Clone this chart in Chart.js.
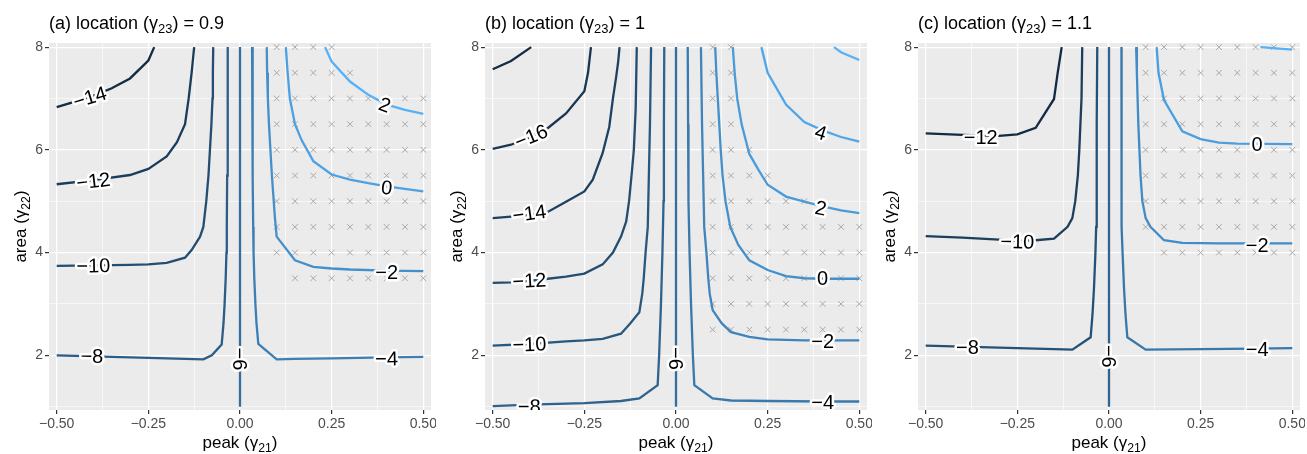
<!DOCTYPE html>
<html>
<head>
<meta charset="utf-8">
<script src="https://cdn.jsdelivr.net/npm/chart.js@4.4.1/dist/chart.umd.min.js"></script>
<style>
  body { margin: 0; background: #fff; }
  .panel { position: absolute; top: 0; width: 436px; height: 454px; }
</style>
</head>
<body>
<div class="panel" style="left:0px"><canvas id="chartA"></canvas></div>
<div class="panel" style="left:436px"><canvas id="chartB"></canvas></div>
<div class="panel" style="left:869px"><canvas id="chartC"></canvas></div>
<script>
// axis ticks (major get labels, minor only grid lines)
const xTicks = [-0.5, -0.375, -0.25, -0.125, 0, 0.125, 0.25, 0.375, 0.5];
const xMajor = [-0.5, -0.25, 0, 0.25, 0.5];
const yTicks = [1, 2, 3, 4, 5, 6, 7, 8];
const yMajor = [2, 4, 6, 8];

// (a) location = 0.9
const aTitle = ['(a) location (γ', '23', ') = 0.9'];
const aLevels = [-14, -12, -10, -8, -6, -4, -2, 0, 2];
const aLines = [
  [[-0.5,6.83],[-0.45,6.94],[-0.4,7.05],[-0.35,7.2],[-0.3,7.39],[-0.25,7.74],[-0.234,8.0]],
  [[-0.5,5.33],[-0.4,5.41],[-0.3,5.51],[-0.25,5.63],[-0.2,5.87],[-0.172,6.15],[-0.15,6.5],[-0.14,7.0],[-0.132,7.5],[-0.125,8.0]],
  [[-0.5,3.74],[-0.4,3.75],[-0.3,3.76],[-0.25,3.77],[-0.2,3.8],[-0.15,3.9],[-0.132,4.05],[-0.109,4.31],[-0.1,4.5],[-0.092,5.0],[-0.086,5.5],[-0.082,6.0],[-0.078,6.5],[-0.075,7.0],[-0.074,7.5],[-0.073,8.0]],
  [[-0.5,2.0],[-0.4,1.98],[-0.3,1.96],[-0.25,1.95],[-0.2,1.94],[-0.1,1.92],[-0.077,2.0],[-0.05,2.21],[-0.045,2.62],[-0.042,3.0],[-0.039,3.5],[-0.037,4.0],[-0.036,4.5],[-0.035,5.5],[-0.034,6.5],[-0.033,8.0]],
  [[0,1],[0,8]],
  [[0.033,8.0],[0.034,6.5],[0.035,5.5],[0.036,4.5],[0.037,4.0],[0.039,3.5],[0.042,3.0],[0.045,2.62],[0.05,2.22],[0.1,1.92],[0.15,1.93],[0.25,1.94],[0.4,1.96],[0.5,1.97]],
  [[0.073,8.0],[0.074,7.5],[0.076,7.0],[0.079,6.5],[0.083,6.0],[0.087,5.5],[0.092,5.0],[0.095,4.7],[0.1,4.31],[0.15,3.85],[0.2,3.72],[0.25,3.69],[0.3,3.67],[0.4,3.65],[0.5,3.64]],
  [[0.125,8.0],[0.13,7.5],[0.136,7.0],[0.15,6.5],[0.168,6.19],[0.2,5.78],[0.25,5.52],[0.3,5.42],[0.35,5.35],[0.4,5.29],[0.45,5.24],[0.5,5.19]],
  [[0.232,8.0],[0.25,7.72],[0.3,7.33],[0.35,7.07],[0.4,6.88],[0.45,6.78],[0.5,6.7]]
];
const aLabels = [[-0.41,7.02,-17],[-0.40,5.39,-7],[-0.40,3.74,-1],[-0.404,1.98,1],[0,1.93,90],[0.40,1.93,-1],[0.40,3.62,0],[0.40,5.26,6],[0.395,6.87,20]];
// rows of grey crosses: [y, first x, last x] on the 0.05 grid
const aCross = [[8,0.1,0.25],[7.5,0.1,0.3],[7,0.1,0.5],[6.5,0.1,0.5],[6,0.1,0.5],[5.5,0.1,0.5],[5,0.1,0.5],[4.5,0.1,0.5],[4,0.1,0.5],[3.5,0.15,0.5]];

// (b) location = 1
const bTitle = ['(b) location (γ', '23', ') = 1'];
const bLevels = [-18, -16, -14, -12, -10, -8, -6, -4, -2, 0, 2, 4, 6];
const bLines = [
  [[-0.5,7.57],[-0.45,7.73],[-0.395,8.0]],
  [[-0.5,6.02],[-0.45,6.1],[-0.4,6.24],[-0.35,6.42],[-0.3,6.71],[-0.25,7.14],[-0.24,7.5],[-0.232,8.0]],
  [[-0.5,4.67],[-0.45,4.7],[-0.4,4.73],[-0.35,4.79],[-0.3,4.99],[-0.25,5.19],[-0.227,5.42],[-0.2,5.94],[-0.182,6.45],[-0.172,7.0],[-0.163,7.43],[-0.158,7.7],[-0.154,8.0]],
  [[-0.5,3.41],[-0.45,3.42],[-0.4,3.45],[-0.35,3.49],[-0.3,3.53],[-0.25,3.59],[-0.2,3.77],[-0.172,4.0],[-0.15,4.31],[-0.136,4.6],[-0.128,5.0],[-0.12,5.6],[-0.115,6.0],[-0.11,6.8],[-0.107,8.0]],
  [[-0.5,2.19],[-0.4,2.22],[-0.3,2.27],[-0.25,2.29],[-0.2,2.32],[-0.15,2.42],[-0.125,2.62],[-0.1,2.84],[-0.092,3.2],[-0.088,3.5],[-0.083,4.0],[-0.077,4.5],[-0.074,5.5],[-0.071,6.5],[-0.068,8.0]],
  [[-0.5,1.01],[-0.4,1.04],[-0.3,1.06],[-0.25,1.07],[-0.15,1.11],[-0.1,1.16],[-0.05,1.42],[-0.046,2.0],[-0.041,3.0],[-0.037,4.0],[-0.034,5.0],[-0.033,6.5],[-0.032,8.0]],
  [[0,1],[0,8]],
  [[0.032,8.0],[0.033,6.5],[0.034,5.0],[0.037,4.0],[0.041,3.0],[0.046,2.0],[0.05,1.42],[0.1,1.16],[0.15,1.12],[0.25,1.11],[0.4,1.1],[0.5,1.1]],
  [[0.068,8.0],[0.071,6.5],[0.074,5.5],[0.077,4.5],[0.083,4.0],[0.088,3.5],[0.092,3.2],[0.1,2.88],[0.125,2.62],[0.15,2.45],[0.2,2.36],[0.25,2.31],[0.35,2.29],[0.5,2.29]],
  [[0.107,8.0],[0.11,7.5],[0.114,7.0],[0.118,6.5],[0.122,6.0],[0.127,5.5],[0.135,5.0],[0.148,4.5],[0.17,4.15],[0.2,3.85],[0.25,3.66],[0.3,3.54],[0.35,3.5],[0.4,3.49],[0.5,3.49]],
  [[0.155,8.0],[0.16,7.5],[0.167,7.0],[0.179,6.5],[0.2,5.92],[0.225,5.61],[0.25,5.32],[0.3,5.09],[0.35,4.99],[0.4,4.9],[0.45,4.82],[0.5,4.77]],
  [[0.233,8.0],[0.25,7.5],[0.3,6.88],[0.35,6.54],[0.4,6.38],[0.45,6.25],[0.5,6.16]],
  [[0.431,8.0],[0.45,7.9],[0.5,7.75]]
];
const bLabels = [null,[-0.395,6.26,-22],[-0.40,4.76,-8],[-0.40,3.45,-3],[-0.40,2.21,-2],[-0.40,1.0,-1],[0,1.94,90],[0.40,1.09,0],[0.40,2.27,0],[0.40,3.49,0],[0.395,4.86,12],[0.395,6.33,18],null];
const bCross = [[8,0.1,0.15],[7.5,0.1,0.15],[7,0.1,0.15],[6.5,0.1,0.15],[6,0.1,0.2],[5.5,0.1,0.25],[5,0.1,0.35],[4.5,0.1,0.5],[4,0.1,0.5],[3.5,0.1,0.5],[3,0.1,0.5],[2.5,0.1,0.5]];

// (c) location = 1.1
const cTitle = ['(c) location (γ', '23', ') = 1.1'];
const cLevels = [-12, -10, -8, -6, -4, -2, 0, 2];
const cLines = [
  [[-0.5,6.32],[-0.4,6.29],[-0.3,6.27],[-0.25,6.3],[-0.2,6.43],[-0.15,6.99],[-0.14,7.5],[-0.129,8.0]],
  [[-0.5,4.32],[-0.4,4.29],[-0.3,4.25],[-0.25,4.23],[-0.2,4.24],[-0.15,4.27],[-0.113,4.5],[-0.1,4.67],[-0.092,5.0],[-0.085,5.5],[-0.081,6.0],[-0.078,6.5],[-0.075,7.0],[-0.073,8.0]],
  [[-0.5,2.19],[-0.4,2.17],[-0.25,2.14],[-0.1,2.11],[-0.05,2.35],[-0.045,2.8],[-0.041,3.3],[-0.037,4.0],[-0.035,4.5],[-0.034,5.5],[-0.033,6.5],[-0.032,8.0]],
  [[0,1],[0,8]],
  [[0.034,8.0],[0.034,6.5],[0.034,5.5],[0.035,4.5],[0.037,4.0],[0.041,3.3],[0.045,2.8],[0.05,2.35],[0.1,2.11],[0.25,2.12],[0.4,2.13],[0.5,2.14]],
  [[0.074,8.0],[0.076,7.5],[0.078,7.0],[0.08,6.5],[0.083,6.0],[0.086,5.5],[0.091,5.0],[0.1,4.67],[0.113,4.5],[0.15,4.24],[0.2,4.19],[0.3,4.18],[0.5,4.18]],
  [[0.13,8.0],[0.135,7.5],[0.15,6.97],[0.2,6.36],[0.25,6.21],[0.3,6.14],[0.35,6.12],[0.5,6.11]],
  [[0.413,8.0],[0.5,7.95]]
];
const cLabels = [[-0.35,6.25,0],[-0.25,4.21,1],[-0.386,2.16,0],[0,1.98,90],[0.404,2.12,0],[0.404,4.13,0],[0.404,6.1,0],null];
const cCross = [[8,0.1,0.5],[7.5,0.1,0.5],[7,0.1,0.5],[6.5,0.1,0.5],[6,0.1,0.5],[5.5,0.1,0.5],[5,0.1,0.5],[4.5,0.1,0.5],[4,0.15,0.5]];

const FONT = '"Liberation Sans", Arial, sans-serif';
const LOW = [19, 43, 67], HIGH = [86, 177, 247];

function levelColor(v, levels) {
  const lo = Math.min(...levels), hi = Math.max(...levels);
  const t = (v - lo) / (hi - lo);
  const c = LOW.map((l, i) => Math.round(l + (HIGH[i] - l) * t));
  return `rgb(${c[0]},${c[1]},${c[2]})`;
}

function fmtNum(v, digits) {
  const s = Math.abs(v).toFixed(digits);
  return v < 0 ? '\u2212' + s : s;
}

// text with one subscript piece: [before, sub, after]
function richWidth(ctx, parts, size) {
  ctx.font = size + 'px ' + FONT;
  let w = ctx.measureText(parts[0]).width + ctx.measureText(parts[2]).width;
  ctx.font = (size * 0.72) + 'px ' + FONT;
  return w + ctx.measureText(parts[1]).width;
}
function drawRich(ctx, parts, x, y, size) {
  ctx.textAlign = 'left';
  ctx.textBaseline = 'alphabetic';
  ctx.font = size + 'px ' + FONT;
  ctx.fillText(parts[0], x, y);
  x += ctx.measureText(parts[0]).width;
  ctx.font = (size * 0.72) + 'px ' + FONT;
  ctx.fillText(parts[1], x, y + size * 0.22);
  x += ctx.measureText(parts[1]).width;
  ctx.font = size + 'px ' + FONT;
  ctx.fillText(parts[2], x, y);
}

const panelPlugin = {
  id: 'panel',
  beforeDraw(chart) {
    const a = chart.chartArea, ctx = chart.ctx;
    ctx.save();
    ctx.fillStyle = '#EBEBEB';
    ctx.fillRect(a.left, a.top, a.right - a.left, a.bottom - a.top);
    ctx.restore();
  },
  afterDatasetsDraw(chart, args, opts) {
    const a = chart.chartArea, ctx = chart.ctx;
    const xs = chart.scales.x, ys = chart.scales.y;
    ctx.save();
    ctx.beginPath();
    ctx.rect(a.left, a.top, a.right - a.left, a.bottom - a.top);
    ctx.clip();
    ctx.font = '20px ' + FONT;
    ctx.textAlign = 'center';
    ctx.textBaseline = 'middle';
    ctx.lineJoin = 'round';
    opts.labels.forEach((lab, i) => {
      if (!lab) return;
      const txt = fmtNum(opts.levels[i], 0);
      ctx.save();
      ctx.translate(xs.getPixelForValue(lab[0]), ys.getPixelForValue(lab[1]));
      ctx.rotate(lab[2] * Math.PI / 180);
      ctx.strokeStyle = '#fff';
      ctx.lineWidth = 5;
      ctx.strokeText(txt, 0, 1);
      ctx.fillStyle = '#000';
      ctx.fillText(txt, 0, 1);
      ctx.restore();
    });
    ctx.restore();
  },
  afterDraw(chart, args, opts) {
    const a = chart.chartArea, ctx = chart.ctx;
    ctx.save();
    ctx.fillStyle = '#000';
    drawRich(ctx, opts.title, a.left, 29, 18);
    const xt = ['peak (γ', '21', ')'];
    drawRich(ctx, xt, (a.left + a.right) / 2 - richWidth(ctx, xt, 17) / 2, 448, 17);
    const yt = ['area (γ', '22', ')'];
    ctx.translate(26, (a.top + a.bottom) / 2);
    ctx.rotate(-Math.PI / 2);
    drawRich(ctx, yt, -richWidth(ctx, yt, 17) / 2, 0, 17);
    ctx.restore();
  }
};

function buildChart(id, title, levels, lines, labels, cross) {
  const datasets = lines.map((pts, i) => ({
    data: pts.map(p => ({ x: p[0], y: p[1] })),
    borderColor: levelColor(levels[i], levels),
    borderWidth: 2.3,
    pointRadius: 0,
    showLine: true,
    tension: 0,
    fill: false
  }));
  const crossPts = [];
  cross.forEach(row => {
    for (let k = Math.round(row[1] * 20); k <= Math.round(row[2] * 20); k++) {
      crossPts.push({ x: k / 20, y: row[0] });
    }
  });
  datasets.push({
    data: crossPts,
    showLine: false,
    pointStyle: 'crossRot',
    pointRadius: 4,
    pointBorderColor: '#A9A9A9',
    pointBorderWidth: 1,
    borderColor: '#A9A9A9'
  });

  return new Chart(document.getElementById(id), {
    type: 'scatter',
    data: { datasets: datasets },
    plugins: [panelPlugin],
    options: {
      responsive: true,
      maintainAspectRatio: false,
      animation: false,
      layout: { padding: { top: 43, right: 4, left: 0, bottom: 0 } },
      plugins: {
        legend: { display: false },
        tooltip: { enabled: false },
        panel: { title: title, levels: levels, labels: labels }
      },
      scales: {
        x: {
          type: 'linear',
          min: -0.521,
          max: 0.521,
          border: { display: false },
          afterBuildTicks: s => { s.ticks = xTicks.map(v => ({ value: v })); },
          afterFit: s => { s.height = 44; s.paddingLeft = 0; s.paddingRight = 0; },
          grid: {
            color: '#FFFFFF',
            lineWidth: c => xMajor.includes(c.tick.value) ? 1.2 : 0.6,
            tickColor: c => xMajor.includes(c.tick.value) ? '#333333' : 'rgba(0,0,0,0)',
            tickLength: 4
          },
          ticks: {
            autoSkip: false,
            maxRotation: 0,
            padding: 2,
            color: '#4D4D4D',
            font: { family: FONT, size: 14 },
            callback: v => xMajor.includes(v) ? fmtNum(v, 2) : ''
          }
        },
        y: {
          type: 'linear',
          min: 0.935,
          max: 8.08,
          border: { display: false },
          afterBuildTicks: s => { s.ticks = yTicks.map(v => ({ value: v })); },
          afterFit: s => { s.width = 49; s.paddingTop = 0; s.paddingBottom = 0; },
          grid: {
            color: '#FFFFFF',
            lineWidth: c => yMajor.includes(c.tick.value) ? 1.2 : 0.6,
            tickColor: c => yMajor.includes(c.tick.value) ? '#333333' : 'rgba(0,0,0,0)',
            tickLength: 4
          },
          ticks: {
            autoSkip: false,
            padding: 2,
            color: '#4D4D4D',
            font: { family: FONT, size: 14 },
            callback: v => yMajor.includes(v) ? String(v) : ''
          }
        }
      }
    }
  });
}

buildChart('chartA', aTitle, aLevels, aLines, aLabels, aCross);
buildChart('chartB', bTitle, bLevels, bLines, bLabels, bCross);
buildChart('chartC', cTitle, cLevels, cLines, cLabels, cCross);
</script>
</body>
</html>
